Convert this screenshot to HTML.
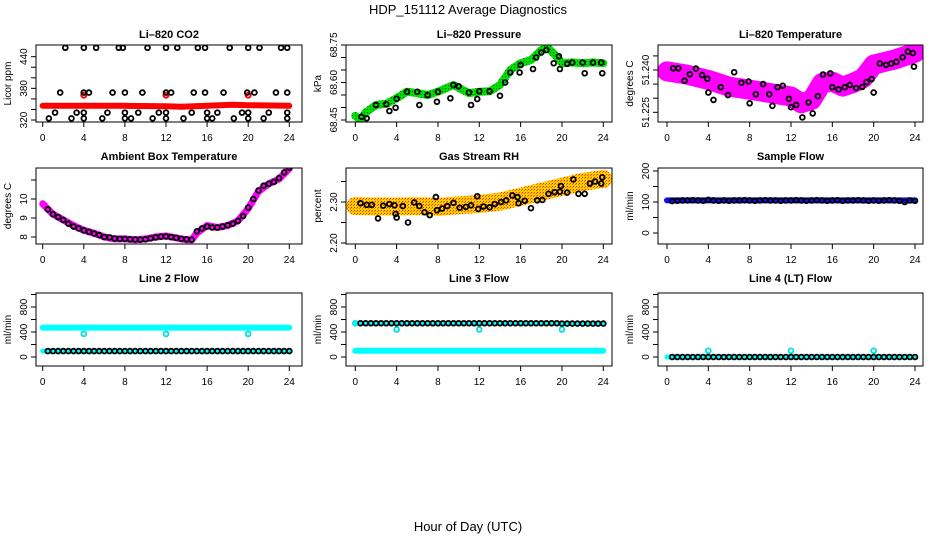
<!DOCTYPE html>
<html><head><meta charset="utf-8"><style>
html,body{margin:0;padding:0;background:#fff;}
svg{display:block;font-family:"Liberation Sans",sans-serif;}
</style></head><body>
<svg id="chart" width="936" height="540" viewBox="0 0 936 540" xmlns="http://www.w3.org/2000/svg">
<defs>
<pattern id="pGreen" width="3" height="3" patternUnits="userSpaceOnUse"><rect width="3" height="3" fill="#00e000"/><rect x="1" y="1" width="1" height="1" fill="#006000"/></pattern>
<pattern id="pOrange" width="3" height="3" patternUnits="userSpaceOnUse"><rect width="3" height="3" fill="#ffd000"/><rect x="0" y="0" width="1" height="1" fill="#ff2000"/><rect x="2" y="1" width="1" height="1" fill="#ff6000"/></pattern>
<pattern id="pBlue" width="3" height="3" patternUnits="userSpaceOnUse"><rect width="3" height="3" fill="#1010ff"/><rect x="1" y="1" width="1" height="1" fill="#000080"/></pattern>
</defs>
<text x="468" y="14" text-anchor="middle" font-size="13">HDP_151112  Average Diagnostics</text>
<text x="468" y="531" text-anchor="middle" font-size="13">Hour of Day (UTC)</text>
</svg>
<script>
// ---------- data ----------
const xTicks = [0,4,8,12,16,20,24];
const halfHours = [0.5,1,1.5,2,2.5,3,3.5,4,4.5,5,5.5,6,6.5,7,7.5,8,8.5,9,9.5,10,10.5,11,11.5,12,12.5,13,13.5,14,14.5,15,15.5,16,16.5,17,17.5,18,18.5,19,19.5,20,20.5,21,21.5,22,22.5,23,23.5,24];

const co2BandHours = [0,4,8,12,13.5,16,18.5,20,24];
const co2BandValues = [347,347,347,346,345,347,349,348,347];
const co2RedHours = [4,12,20];
const co2RedValues = [367,367,367];
const co2PtHours = [2.2,4,5.2,7.4,7.8,10.2,12,13.1,15.1,15.8,18.2,20,21.1,23.2,23.8, 1.7,4,4.5,6.8,8,9.7,12,12.5,14.7,15.8,17.6,19.9,20.6,22.7,23.8, 1.2,3.3,4,6.3,8,9.3,11.3,12,14.5,16,17,19.4,20,22,23.8, 0.6,2.8,4,5.8,8,8.6,10.7,12,13.7,16,16.5,18.6,20,21.5,23.8];
const co2PtValues = [457,457,457,457,457,457,457,457,457,457,457,457,457,457,457, 372,372,372,372,372,372,372,372,372,372,372,372,372,372,372, 334,334,334,334,334,334,334,334,334,334,334,334,334,334,334, 323,323,323,323,323,323,323,323,323,323,323,323,323,323,323];

const presBandHours = [0,0.5,1,2,3,4,5,6,7,8,9.5,11,12,13,14,15,16,17,18,18.7,19.5,20,21,22,23,24];
const presBandValues = [68.467,68.45,68.48,68.51,68.515,68.537,68.563,68.557,68.55,68.563,68.59,68.557,68.563,68.565,68.59,68.65,68.677,68.69,68.73,68.737,68.703,68.677,68.68,68.677,68.68,68.677];
const presPtHours = [0.6,1.1,3.3,3.9,6.2,7.9,9.2,11.2,11.8,14,15.9,17.2,19.2,19.8,22.2,23.9, 2,3,4,5,6,7,8,9.5,10,11,12,13,14.5,15,16,17.5,18,18.5,19.7,20.5,21,22,23,23.8];
const presPtValues = [68.463,68.457,68.486,68.499,68.51,68.523,68.537,68.51,68.534,68.547,68.64,68.654,68.677,68.654,68.637,68.637, 68.51,68.513,68.535,68.563,68.563,68.55,68.563,68.59,68.585,68.56,68.565,68.565,68.6,68.64,68.67,68.7,68.72,68.73,68.705,68.675,68.68,68.68,68.68,68.68];

const tempBandHours = [0,2,4,6,8,10,12,13,14,15,16,17,18,19,20,22,24];
const tempBandValues = [51.2395,51.2383,51.2365,51.2341,51.233,51.2318,51.2306,51.2282,51.2294,51.2354,51.2359,51.2341,51.2354,51.2371,51.2419,51.2437,51.2461];
const tempPtHours = [0.6,1.1,1.7,2.2,2.8,3.4,3.9,4,4.5,5.2,5.9,6.5,7.2,7.9,8,8.6,9.3,9.9,10.2,10.7,11.2,11.8,12,12.5,13.1,13.7,14.1,14.6,15.1,15.8,16,16.6,17.2,17.7,18.3,18.9,19.3,19.8,20,20.6,21.2,21.7,22.2,22.8,23.3,23.8,23.9];
const tempPtValues = [51.2406,51.2406,51.2362,51.2385,51.2405,51.2382,51.2369,51.232,51.2294,51.2339,51.2311,51.2392,51.2355,51.2359,51.2282,51.2314,51.235,51.2314,51.2273,51.2339,51.2344,51.2298,51.2268,51.2276,51.2232,51.2285,51.2246,51.2307,51.2384,51.2388,51.2339,51.2331,51.2339,51.2347,51.2336,51.234,51.2357,51.2368,51.232,51.2423,51.2418,51.2423,51.2429,51.2445,51.2465,51.246,51.2412];

const ambBandHours = [0,1,2,3,4,5,6,7,8,9,10,11,12,13,14,14.5,15,16,17,18,19,20,21,22,23,24];
const ambBandValues = [9.75,9.2,8.9,8.6,8.35,8.2,8.0,7.9,7.9,7.85,7.9,8.0,8.05,7.95,7.85,7.85,8.2,8.6,8.5,8.6,8.85,9.5,10.4,10.8,11.05,11.6];
const ambPtHours = [0.5,1,1.5,2,2.5,3,3.5,4,4.5,5,5.5,6,6.5,7,7.5,8,8.5,9,9.5,10,10.5,11,11.5,12,12.5,13,13.5,14,14.5,15,15.5,16,16.5,17,17.5,18,18.5,19,19.5,20,20.5,21,21.5,22,22.5,23,23.5,24];
const ambPtValues = [9.45,9.2,9.05,8.9,8.7,8.55,8.45,8.35,8.27,8.18,8.1,8.0,7.98,7.92,7.9,7.9,7.88,7.87,7.86,7.88,7.93,7.98,8.02,8.03,8.0,7.96,7.9,7.88,7.86,8.3,8.45,8.55,8.5,8.5,8.55,8.62,8.7,8.85,9.1,9.55,10.0,10.45,10.7,10.8,10.9,11.1,11.4,11.65];

const rhBandHours = [0,2,4,6,8,10,12,14,16,18,20,22,24];
const rhBandValues = [2.29,2.289,2.289,2.29,2.288,2.292,2.295,2.301,2.313,2.325,2.337,2.349,2.356];
const rhPtHours = [0.5,1.1,1.6,2.2,2.7,3.3,3.8,3.9,4,4.6,5.1,5.7,6.2,6.7,7.2,7.8,7.9,8.4,8.9,9.5,10.1,10.7,11.2,11.8,11.9,12.4,13,13.5,14.1,14.6,15.2,15.7,15.8,16.4,17,17.6,18.1,18.7,19.3,19.8,19.9,20.5,21.1,21.6,22.2,22.7,23.2,23.8,23.9];
const rhPtValues = [2.297,2.293,2.293,2.26,2.291,2.295,2.292,2.271,2.262,2.29,2.25,2.299,2.29,2.275,2.268,2.312,2.28,2.284,2.29,2.298,2.286,2.288,2.292,2.314,2.283,2.289,2.287,2.295,2.3,2.304,2.316,2.312,2.297,2.303,2.285,2.304,2.305,2.32,2.324,2.325,2.339,2.323,2.355,2.32,2.32,2.345,2.35,2.345,2.36];

const sampleBandHours = [0,24];
const sampleBandValues = [105,105];
const samplePtValues = [103,104,105,105,106,105,104,107,105,104,105,104,105,105,106,105,104,105,106,105,105,104,105,105,106,105,104,105,106,105,104,105,106,104,105,105,106,105,104,105,104,105,106,105,104,100,105,104];

const l2CyanHours = [0,24];
const l2CyanValues = [470,470];
const l2DipHours = [4,12,20];
const l2DipValues = [370,370,370];
const l2BlackValues = [95,95,95,95,95,95,95,95,95,95,95,95,95,95,95,95,95,95,95,95,95,95,95,95,95,95,95,95,95,95,95,95,95,95,95,95,95,95,95,95,95,95,95,95,95,95,95,95];

const l3CyanHours = [0,24];
const l3CyanValues = [100,100];
const l3DipHours = [0,4,12,20];
const l3DipValues = [540,440,440,440];
const l3BlackValues = [540,540,540,540,540,540,540,540,540,540,540,540,540,540,540,540,540,540,540,540,540,540,540,540,540,540,540,540,540,540,540,540,540,540,540,540,540,540,540,535,535,535,535,535,535,535,535,535];

const l4CyanHours = [0,24];
const l4CyanValues = [0,0];
const l4DipHours = [4,12,20];
const l4DipValues = [100,100,100];
const l4BlackValues = [0,0,0,0,0,0,0,0,0,0,0,0,0,0,0,0,0,0,0,0,0,0,0,0,0,0,0,0,0,0,0,0,0,0,0,0,0,0,0,0,0,0,0,0,0,0,0,0];

// ---------- drawing ----------
const svg = document.getElementById('chart');
const NS = 'http://www.w3.org/2000/svg';
function mk(tag, attrs, parent){ const e=document.createElementNS(NS,tag); for(const k in attrs) e.setAttribute(k,attrs[k]); (parent||svg).appendChild(e); return e; }

const cols = [{bx0:36,bx1:302,h0:42.7,h24:289.3},{bx0:346,bx1:612,h0:355.3,h24:603.3},{bx0:658,bx1:923,h0:667,h24:915}];
const rows = [{by0:45,by1:122,title:38},{by0:168,by1:244,title:160},{by0:293,by1:366,title:282}];

function makePanel(name, r, c, title, ytitle, v0, p0, v1, p1, ticks, labels){
  const R=rows[r], C=cols[c];
  const g = mk('g',{});
  
  
  const xs = h => C.h0 + (h/24)*(C.h24-C.h0);
  const ys = v => p0 + (v-v0)*(p1-p0)/(v1-v0);
  const clipId='clip-'+name;
  const cp = mk('clipPath',{id:clipId},g); mk('rect',{x:C.bx0,y:R.by0,width:C.bx1-C.bx0,height:R.by1-R.by0},cp);
  const plot = mk('g',{'clip-path':'url(#'+clipId+')'},g);
  
  
  const box = mk('rect',{x:C.bx0,y:R.by0,width:C.bx1-C.bx0,height:R.by1-R.by0,fill:'none',stroke:'#000','stroke-width':1},g);
  
  
  const t = mk('text',{x:(C.bx0+C.bx1)/2,y:R.title,'text-anchor':'middle','font-size':11,'font-weight':'bold'},g);
  t.textContent=title;
  
  
  const yt = mk('text',{x:0,y:0,'text-anchor':'middle','font-size':10,transform:'translate('+(C.bx0-25)+','+((R.by0+R.by1)/2)+') rotate(-90)'},g);
  yt.textContent=ytitle;
  
  
  xTicks.forEach(h=>{
    const x=xs(h);
    const tk=mk('line',{x1:x,x2:x,y1:R.by1,y2:R.by1+5,stroke:'#000'},g);
    
    
    const tl=mk('text',{x:x,y:R.by1+19,'text-anchor':'middle','font-size':10},g);
    tl.textContent=h;
    
    
  });
  ticks.forEach(v=>{
    const y=ys(v);
    const tk=mk('line',{x1:C.bx0-5,x2:C.bx0,y1:y,y2:y,stroke:'#000'},g);
    
    
  });
  labels.forEach(v=>{
    const y=ys(+v);
    const tl=mk('text',{x:0,y:0,'text-anchor':'middle','font-size':10,transform:'translate('+(C.bx0-9)+','+y+') rotate(-90)'},g);
    tl.textContent=v;
    
    
  });
  return {plot,xs,ys};
}
function band(P, name, hours, vals, stroke, width){
  const pts = hours.map((h,i)=>P.xs(h).toFixed(1)+','+P.ys(vals[i]).toFixed(1)).join(' ');
  const l = mk('polyline',{points:pts,fill:'none',stroke:stroke,'stroke-width':width,'stroke-linejoin':'round','stroke-linecap':'round'},P.plot);
  
  
}
function points(P, name, hours, vals, color, r, sw){
  hours.forEach((h,i)=>{
    const c = mk('circle',{cx:P.xs(h),cy:P.ys(vals[i]),r:r,fill:'none',stroke:color,'stroke-width':sw},P.plot);
    
    
  });
}

// CO2
let P = makePanel('co2',0,0,'Li\u2013820 CO2','Licor ppm',320,120,440,56.7,[320,340,360,380,400,420,440],['320','380','440']);
band(P,'co2-band',co2BandHours,co2BandValues,'#ff0000',6);
points(P,'co2-red-point',co2RedHours,co2RedValues,'#ff0000',2.5,2);
points(P,'co2-point',co2PtHours,co2PtValues,'#000',2.4,1.8);

// Pressure
P = makePanel('pressure',0,1,'Li\u2013820 Pressure','kPa',68.45,120,68.75,45,[68.45,68.5,68.55,68.6,68.65,68.7,68.75],['68.45','68.60','68.75']);
band(P,'pressure-band',presBandHours,presBandValues,'url(#pGreen)',8);
points(P,'pressure-point',presPtHours,presPtValues,'#000',2.4,1.8);

// Temperature
P = makePanel('temperature',0,2,'Li\u2013820 Temperature','degrees C',51.225,112.3,51.240,70,[51.225,51.23,51.235,51.24,51.245],['51.225','51.240']);
band(P,'temperature-band',tempBandHours,tempBandValues,'#ff00ff',20);
points(P,'temperature-point',tempPtHours,tempPtValues,'#000',2.4,1.8);

// Ambient
P = makePanel('ambient',1,0,'Ambient Box Temperature','degrees C',8,237,10,199,[8,9,10,11],['8','9','10']);
band(P,'ambient-band',ambBandHours,ambBandValues,'#ff00ff',7);
points(P,'ambient-point',ambPtHours,ambPtValues,'#000',2.4,1.8);

// Gas RH
P = makePanel('gas-rh',1,1,'Gas Stream RH','percent',2.20,243,2.30,202,[2.2,2.25,2.3,2.35],['2.20','2.30']);
band(P,'gas-rh-band',rhBandHours,rhBandValues,'url(#pOrange)',18);
points(P,'gas-rh-point',rhPtHours,rhPtValues,'#000',2.4,1.8);

// Sample flow
P = makePanel('sample-flow',1,2,'Sample Flow','ml/min',0,233,100,202,[0,50,100,150,200],['0','100','200']);
band(P,'sample-flow-band',sampleBandHours,sampleBandValues,'url(#pBlue)',6);
points(P,'sample-flow-point',halfHours,samplePtValues,'#000',2.4,1.8);

// Line 2
P = makePanel('line2-flow',2,0,'Line 2 Flow','ml/min',0,357,400,332,[0,200,400,600,800,1000],['0','400','800']);
band(P,'line2-cyan-band',l2CyanHours,l2CyanValues,'#00ffff',6);
points(P,'line2-cyan-dip',l2DipHours,l2DipValues,'#00e0e0',2.4,1.8);
band(P,'line2-black-band',[0,24],[95,95],'#00ffff',5);
points(P,'line2-black-point',halfHours,l2BlackValues,'#000',2.4,1.8);

// Line 3
P = makePanel('line3-flow',2,1,'Line 3 Flow','ml/min',0,357,400,332,[0,200,400,600,800,1000],['0','400','800']);
band(P,'line3-cyan-band',l3CyanHours,l3CyanValues,'#00ffff',6);
points(P,'line3-cyan-dip',l3DipHours,l3DipValues,'#00e0e0',2.4,1.8);
band(P,'line3-black-band',[0,24],[540,540],'#00ffff',4);
points(P,'line3-black-point',halfHours,l3BlackValues,'#000',2.4,1.8);

// Line 4
P = makePanel('line4-flow',2,2,'Line 4 (LT) Flow','ml/min',0,357,400,332,[0,200,400,600,800,1000],['0','400','800']);
band(P,'line4-cyan-band',l4CyanHours,l4CyanValues,'#00ffff',5);
points(P,'line4-cyan-dip',l4DipHours,l4DipValues,'#00e0e0',2.4,1.8);
points(P,'line4-black-point',halfHours,l4BlackValues,'#000',2.4,1.8);
</script>
</body></html>
